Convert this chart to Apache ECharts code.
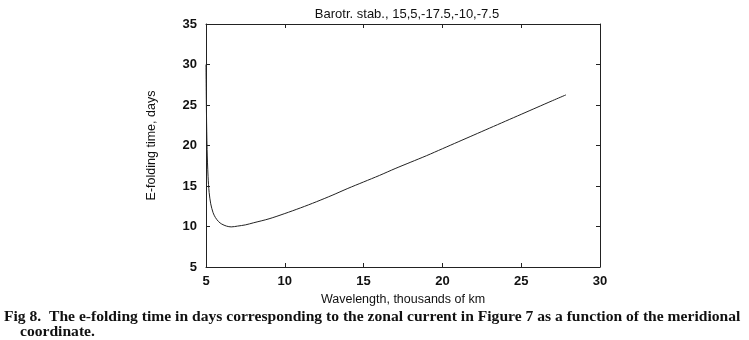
<!DOCTYPE html>
<html><head><meta charset="utf-8">
<script src="https://cdn.jsdelivr.net/npm/echarts@6/dist/echarts.min.js"></script>
<style>html,body{margin:0;padding:0;background:#fff}#c{width:749px;height:340px}</style>
</head><body><div id="c"></div>
<script>
const wavelength = [5.0, 5.03, 5.07, 5.13, 5.2, 5.3, 5.45, 5.6, 5.8, 6.0, 6.3, 6.6, 7.0, 7.5, 8, 9, 10, 11, 12, 13, 14, 15, 16, 17, 18, 19, 20, 21, 22, 23, 24, 25, 26, 27, 27.84];
const efold = [30, 24, 19.5, 16.2, 14.2, 12.8, 11.7, 11.1, 10.6, 10.3, 10.05, 9.95, 10.05, 10.2, 10.45, 10.95, 11.6, 12.3, 13.05, 13.85, 14.7, 15.5, 16.3, 17.15, 17.95, 18.75, 19.6, 20.45, 21.3, 22.15, 23.0, 23.85, 24.7, 25.55, 26.25];
const titleText = 'Barotr. stab., 15,5,-17.5,-10,-7.5';
const xTitle = 'Wavelength, thousands of km';
const yTitle = 'E-folding time, days';
const caption1 = 'Fig 8.  The e-folding time in days corresponding to the zonal current in Figure 7 as a function of the meridional';
const caption2 = 'coordinate.';

const chart = echarts.init(document.getElementById('c'), null, {renderer: 'canvas'});
const axisCommon = {
  axisLine: {show: true, lineStyle: {color: '#222', width: 1}},
  axisTick: {show: true, inside: true, length: 4, lineStyle: {color: '#222'}},
  splitLine: {show: false}
};
const labelStyle = {color: '#111', fontFamily: 'Liberation Sans', fontWeight: 'bold', fontSize: 13};
chart.setOption({
  animation: false,
  backgroundColor: '#fff',
  title: {text: titleText, left: 402, top: 3, textAlign: 'center',
    textStyle: {fontFamily: 'Liberation Sans', fontWeight: 'normal', fontSize: 13, color: '#111'}},
  grid: {left: 206, right: 149, top: 24, bottom: 73},
  xAxis: [
    Object.assign({type: 'value', min: 5, max: 30, interval: 5, position: 'bottom',
      axisLabel: Object.assign({margin: 8}, labelStyle),
      name: xTitle, nameLocation: 'middle', nameGap: 24,
      nameTextStyle: {fontFamily: 'Liberation Sans', fontSize: 12.5, color: '#111'}}, axisCommon),
    Object.assign({type: 'value', min: 5, max: 30, interval: 5, position: 'top', axisLabel: {show: false}}, axisCommon)
  ],
  yAxis: [
    Object.assign({type: 'value', min: 5, max: 35, interval: 5, position: 'left',
      axisLabel: Object.assign({margin: 9}, labelStyle),
      name: yTitle, nameLocation: 'middle', nameGap: 48,
      nameTextStyle: {fontFamily: 'Liberation Sans', fontSize: 12.5, color: '#111'}}, axisCommon),
    Object.assign({type: 'value', min: 5, max: 35, interval: 5, position: 'right', axisLabel: {show: false}}, axisCommon)
  ],
  series: [{
    type: 'line', xAxisIndex: 0, yAxisIndex: 0,
    data: wavelength.map((x, i) => [x, efold[i]]),
    smooth: 0.3, showSymbol: false, symbol: 'none',
    lineStyle: {color: '#222', width: 1}
  }],
  graphic: [
    {type: 'text', left: 4, top: 309, style: {text: caption1, font: 'bold 15.6px "Liberation Serif"', fill: '#111'}},
    {type: 'text', left: 20, top: 324, style: {text: caption2, font: 'bold 15.6px "Liberation Serif"', fill: '#111'}}
  ]
});
</script></body></html>
